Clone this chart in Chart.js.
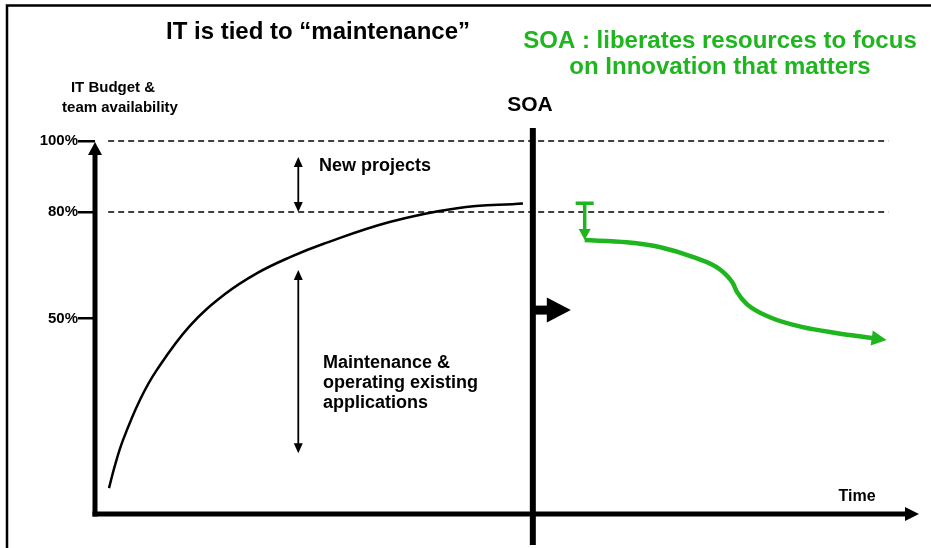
<!DOCTYPE html>
<html>
<head>
<meta charset="utf-8">
<script src="https://cdn.jsdelivr.net/npm/chart.js@4.4.1/dist/chart.umd.min.js"></script>
<style>
  html, body { margin: 0; padding: 0; background: #fff; }
  #wrap { width: 931px; height: 548px; position: relative; }
</style>
</head>
<body>
<div id="wrap"><canvas id="chart1"></canvas></div>
<script>
    // y axis (IT budget & team availability, %)
    let yTickValues = [100, 80, 50];
    let yTickLabels = ['100%', '80%', '50%'];
    let levelLines = [100, 80];

    // before SOA: budget tied up in maintenance
    let itTime = [1.7, 2.4, 3.4, 5.5, 7.5, 11.5, 15.8, 19.7, 23.7, 27.7, 35.8, 44.0, 52.0];
    let itBudget = [2.3, 8.5, 15.8, 27.3, 35.5, 47.9, 56.9, 62.8, 67.3, 71.0, 77.2, 81.1, 82.4];

    // after SOA: maintenance share goes down
    let soaTime = [59.5, 64.6, 68.7, 72.7, 75.9, 77.5, 78.0, 79.2, 82.0, 86.0, 90.2, 94.5];
    let soaBudget = [72.1, 71.5, 70.1, 67.3, 63.9, 60.0, 57.5, 54.1, 50.4, 47.6, 45.9, 44.5];

    // markers
    let soaMoment = 53.2;
    let soaDrop = [82.5, 72.1];        // green T arrow at start of the SOA curve
    let newProjectsSpan = [95.5, 80];  // double arrow "New projects"
    let maintenanceSpan = [63.7, 12.1];
    let spanTime = 24.7;
    let soaArrowLevel = 52.4;

    const FONT = "'Liberation Sans', Arial, Helvetica, sans-serif";
    const GREEN = '#1fb51f';

    function arrowHead(ctx, x, y, angle, len, half) {
        ctx.save();
        ctx.translate(x, y);
        ctx.rotate(angle);
        ctx.beginPath();
        ctx.moveTo(0, 0);
        ctx.lineTo(-len, -half);
        ctx.lineTo(-len, half);
        ctx.closePath();
        ctx.fill();
        ctx.restore();
    }

    function text(ctx, str, x, y, size, color, align) {
        ctx.font = 'bold ' + size + 'px ' + FONT;
        ctx.fillStyle = color;
        ctx.textAlign = align || 'center';
        ctx.textBaseline = 'middle';
        ctx.fillText(str, x, y);
    }

    let diagramPlugin = {
        id: 'diagram',
        afterDatasetsDraw(chart) {
            let ctx = chart.ctx;
            let area = chart.chartArea;
            let xs = chart.scales.x;
            let ys = chart.scales.y;
            ctx.save();

            // frame (top and left edge)
            ctx.strokeStyle = '#000';
            ctx.lineWidth = 2.5;
            ctx.beginPath();
            ctx.moveTo(7, 548);
            ctx.lineTo(7, 5.5);
            ctx.lineTo(931, 5.5);
            ctx.stroke();

            // dashed level lines
            ctx.lineWidth = 1.5;
            ctx.setLineDash([6, 4]);
            levelLines.forEach(function(v) {
                let y = ys.getPixelForValue(v);
                ctx.beginPath();
                ctx.moveTo(xs.getPixelForValue(1.6), y);
                ctx.lineTo(xs.getPixelForValue(96.4), y);
                ctx.stroke();
            });
            ctx.setLineDash([]);

            // axes with arrows
            ctx.fillStyle = '#000';
            ctx.lineWidth = 5;
            ctx.beginPath();
            ctx.moveTo(area.left, area.bottom + 2.5);
            ctx.lineTo(area.left, area.top + 10);
            ctx.stroke();
            arrowHead(ctx, area.left, area.top + 1, -Math.PI / 2, 13, 7);
            ctx.beginPath();
            ctx.moveTo(area.left - 2.5, area.bottom);
            ctx.lineTo(area.right - 10, area.bottom);
            ctx.stroke();
            arrowHead(ctx, area.right + 1, area.bottom, 0, 14, 7);

            // SOA vertical line and push arrow
            let sx = xs.getPixelForValue(soaMoment);
            ctx.lineWidth = 6;
            ctx.beginPath();
            ctx.moveTo(sx, 128);
            ctx.lineTo(sx, 545);
            ctx.stroke();
            let ay = ys.getPixelForValue(soaArrowLevel);
            ctx.fillRect(sx, ay - 4.5, 16, 9);
            arrowHead(ctx, sx + 38, ay, 0, 24, 12.5);

            // double arrows
            ctx.lineWidth = 1.8;
            [newProjectsSpan, maintenanceSpan].forEach(function(span) {
                let x = xs.getPixelForValue(spanTime);
                let y1 = ys.getPixelForValue(span[0]);
                let y2 = ys.getPixelForValue(span[1]);
                ctx.beginPath();
                ctx.moveTo(x, y1 + 6);
                ctx.lineTo(x, y2 - 6);
                ctx.stroke();
                arrowHead(ctx, x, y1, -Math.PI / 2, 10, 4.5);
                arrowHead(ctx, x, y2, Math.PI / 2, 10, 4.5);
            });

            // green T drop arrow
            let gx = xs.getPixelForValue(soaTime[0]);
            let gTop = ys.getPixelForValue(soaDrop[0]);
            let gBot = ys.getPixelForValue(soaDrop[1]);
            ctx.strokeStyle = GREEN;
            ctx.fillStyle = GREEN;
            ctx.lineWidth = 3.5;
            ctx.beginPath();
            ctx.moveTo(gx - 9, gTop);
            ctx.lineTo(gx + 9, gTop);
            ctx.moveTo(gx, gTop);
            ctx.lineTo(gx, gBot - 8);
            ctx.stroke();
            arrowHead(ctx, gx, gBot, Math.PI / 2, 11, 6);

            // arrow head at end of green curve
            let pts = chart.getDatasetMeta(1).data;
            let last = pts[pts.length - 1];
            let prev = pts[pts.length - 2];
            let ang = Math.atan2(last.y - prev.y, last.x - prev.x);
            arrowHead(ctx, last.x + 14 * Math.cos(ang), last.y + 14 * Math.sin(ang), ang, 15, 7.5);

            // texts
            text(ctx, 'IT is tied to \u201cmaintenance\u201d', 318, 32, 24, '#000');
            text(ctx, 'SOA : liberates resources to focus', 720, 41, 24, GREEN);
            text(ctx, 'on Innovation that matters', 720, 67, 24, GREEN);
            text(ctx, 'IT Budget &', 113, 88, 15, '#000');
            text(ctx, 'team availability', 120, 108, 15, '#000');
            text(ctx, 'SOA', 530, 105, 21, '#000');
            text(ctx, 'New projects', 319, 166, 18, '#000', 'left');
            text(ctx, 'Maintenance &', 323, 363, 18, '#000', 'left');
            text(ctx, 'operating existing', 323, 383, 18, '#000', 'left');
            text(ctx, 'applications', 323, 403, 18, '#000', 'left');
            text(ctx, 'Time', 857, 497, 16, '#000');

            ctx.restore();
        }
    };

    let chart1 = document.getElementById('chart1').getContext('2d');

    let budgetChart = new Chart(chart1, {
    type: 'line',
    data: {
    datasets: [{
    label: 'IT tied to maintenance',
    data: itTime.map(function(t, i) { return {x: t, y: itBudget[i]}; }),
    borderColor: '#000',
    borderWidth: 2.5,
    pointRadius: 0,
    tension: 0.4,
    fill: false
}, {
    label: 'With SOA',
    data: soaTime.map(function(t, i) { return {x: t, y: soaBudget[i]}; }),
    borderColor: GREEN,
    borderWidth: 4.5,
    pointRadius: 0,
    cubicInterpolationMode: 'monotone',
    fill: false
}]
},
    options: {
    responsive: true,
    maintainAspectRatio: false,
    animation: false,
    events: [],
    layout: {
    padding: {left: 0, right: 13, top: 141, bottom: 34}
},
    plugins: {
    legend: {display: false},
    title: {display: false},
    tooltip: {enabled: false}
},
    scales: {
    x: {
    type: 'linear',
    display: false,
    min: 0,
    max: 100
},
    y: {
    type: 'linear',
    min: -5,
    max: 100,
    afterFit: function(scale) { scale.width = 95; },
    afterBuildTicks: function(scale) {
        scale.ticks = yTickValues.map(function(v) { return {value: v}; });
    },
    border: {display: false},
    grid: {
    drawOnChartArea: false,
    drawTicks: true,
    tickLength: 17,
    color: '#000',
    lineWidth: 2.5
},
    ticks: {
    autoSkip: false,
    padding: 0,
    color: '#000',
    font: {family: FONT, size: 15, weight: 'bold'},
    callback: function(value) {
        let i = yTickValues.indexOf(value);
        return i >= 0 ? yTickLabels[i] : '';
    }
}
}
}
},
    plugins: [diagramPlugin]
});
</script>
</body>
</html>
